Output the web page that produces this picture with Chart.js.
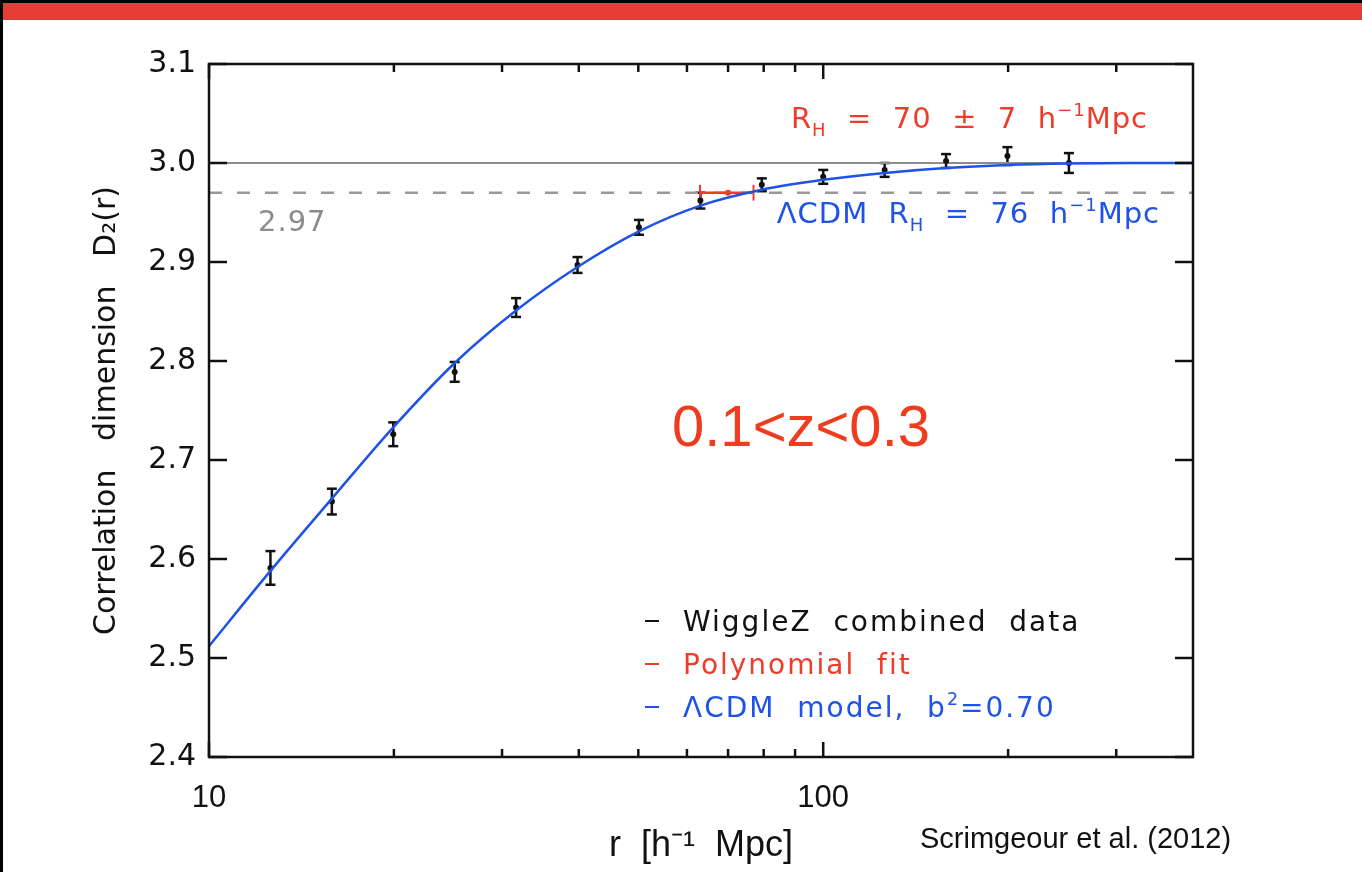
<!DOCTYPE html>
<html>
<head>
<meta charset="utf-8">
<script src="https://cdn.jsdelivr.net/npm/chart.js@4.4.0/dist/chart.umd.min.js"></script>
<style>
  html, body { margin: 0; padding: 0; background: #fff; }
  body { width: 1362px; height: 872px; position: relative; overflow: hidden; }
  #topbar { position: absolute; left: 0; top: 0; width: 1362px; height: 20px; background: #e73c36; border-top: 3px solid #000; box-sizing: border-box; }
  #edge { position: absolute; left: 0; top: 0; width: 3px; height: 872px; background: #000; }
  #wrap { position: absolute; left: 0; top: 0; width: 1362px; height: 872px; }
</style>
</head>
<body>
<div id="topbar"></div>
<div id="edge"></div>
<div id="wrap"><canvas id="grafico" width="1362" height="872"></canvas></div>
<script>
// WiggleZ combined data, 0.1<z<0.3
const rValues  = [12.59, 15.85, 19.95, 25.12, 31.62, 39.81, 50.12, 63.10, 79.43, 100.0, 125.9, 158.5, 199.5, 251.2];
const d2Values = [2.591, 2.658, 2.726, 2.789, 2.854, 2.897, 2.935, 2.962, 2.978, 2.986, 2.993, 3.002, 3.007, 3.000];
const d2Errors = [0.017, 0.013, 0.012, 0.010, 0.0095, 0.008, 0.0075, 0.008, 0.0065, 0.007, 0.007, 0.007, 0.009, 0.010];

// LCDM model curve, b^2 = 0.70
const modelR  = [10, 12.59, 15.85, 19.95, 25.12, 31.62, 39.81, 50.12, 63.10, 79.43, 100, 125.9, 158.5, 199.5, 251.2, 316.2, 400];
const modelD2 = [2.512, 2.588, 2.661, 2.733, 2.798, 2.851, 2.895, 2.931, 2.957, 2.973, 2.983, 2.990, 2.995, 2.998, 2.9995, 3.000, 3.000];

// polynomial fit: R_H = 70 +- 7 where D2 reaches 2.97
const fitRH = 70;
const fitErr = 7;
const fitLevel = 2.97;
const fitCap = 0.008;

const homogeneous = 3.0;
const xMin = 10, xMax = 400;
const yMin = 2.4, yMax = 3.1;
const xTicks = [10, 20, 30, 40, 50, 60, 70, 80, 90, 100, 200, 300];
const xLabels = [10, 100];
const yTicks = [2.4, 2.5, 2.6, 2.7, 2.8, 2.9, 3.0, 3.1];

const RED = '#ef3b2a';
const BLUE = '#1f52e6';
const INK = '#111';
const GREY = '#8c8c8c';
const IDL = '"DejaVu Sans", sans-serif';
const HELV = '"Liberation Sans", Arial, sans-serif';

// text made of pieces with sub/superscripts
function drawRuns(ctx, runs, x, y, size, color, align, spacing) {
  ctx.letterSpacing = (spacing === undefined ? 2 : spacing) + 'px';
  const pieces = runs.map(([t, kind]) => {
    const s = kind ? size * 0.62 : size;
    ctx.font = s + 'px ' + IDL;
    return { t, kind, s, w: ctx.measureText(t).width };
  });
  const total = pieces.reduce((a, p) => a + p.w, 0);
  let cx = align === 'right' ? x - total : x;
  ctx.fillStyle = color;
  ctx.textAlign = 'left';
  ctx.textBaseline = 'alphabetic';
  pieces.forEach(p => {
    ctx.font = p.s + 'px ' + IDL;
    const dy = p.kind === 'sub' ? size * 0.28 : p.kind === 'sup' ? -size * 0.42 : 0;
    ctx.fillText(p.t, cx, y + dy);
    cx += p.w;
  });
  ctx.letterSpacing = '0px';
}

function line(ctx, x1, y1, x2, y2) {
  ctx.beginPath();
  ctx.moveTo(x1, y1);
  ctx.lineTo(x2, y2);
  ctx.stroke();
}

const errorBars = {
  id: 'errorBars',
  beforeDatasetsDraw(chart) {
    const ctx = chart.ctx, xs = chart.scales.x, ys = chart.scales.y;
    ctx.save();
    ctx.strokeStyle = INK;
    ctx.lineWidth = 2.5;
    rValues.forEach((r, i) => {
      const px = xs.getPixelForValue(r);
      const top = ys.getPixelForValue(d2Values[i] + d2Errors[i]);
      const bot = ys.getPixelForValue(d2Values[i] - d2Errors[i]);
      line(ctx, px, top, px, bot);
      line(ctx, px - 5, top, px + 5, top);
      line(ctx, px - 5, bot, px + 5, bot);
    });
    // end caps of the R_H range
    ctx.strokeStyle = RED;
    ctx.lineWidth = 2;
    [fitRH - fitErr, fitRH + fitErr].forEach(r => {
      const px = xs.getPixelForValue(r);
      line(ctx, px, ys.getPixelForValue(fitLevel + fitCap), px, ys.getPixelForValue(fitLevel - fitCap));
    });
    ctx.restore();
  }
};

const frameAndText = {
  id: 'frameAndText',
  afterDraw(chart) {
    const ctx = chart.ctx, a = chart.chartArea, xs = chart.scales.x, ys = chart.scales.y;
    ctx.save();
    ctx.strokeStyle = INK;
    ctx.lineWidth = 2.5;
    xTicks.forEach(v => {
      const px = xs.getPixelForValue(v);
      const len = xLabels.includes(v) ? 15 : 8;
      line(ctx, px, a.bottom, px, a.bottom - len);
      line(ctx, px, a.top, px, a.top + len);
    });
    yTicks.forEach(v => {
      const py = ys.getPixelForValue(v);
      line(ctx, a.left, py, a.left + 18, py);
      line(ctx, a.right, py, a.right - 18, py);
    });
    ctx.strokeRect(a.left, a.top, a.right - a.left, a.bottom - a.top);

    // threshold label
    drawRuns(ctx, [['2.97']], a.left + 49, ys.getPixelForValue(fitLevel) + 38, 29, GREY, 'left', 1);

    drawRuns(ctx, [['R'], ['H', 'sub'], ['  =  70  ±  7  h'], ['−1', 'sup'], ['Mpc']], 1148, 128, 29, RED, 'right', 1);
    drawRuns(ctx, [['ΛCDM  R'], ['H', 'sub'], ['  =  76  h'], ['−1', 'sup'], ['Mpc']], 1160, 223, 29, BLUE, 'right', 1);

    // redshift range
    ctx.font = '58px ' + HELV;
    ctx.fillStyle = '#f03c1e';
    ctx.textAlign = 'left';
    ctx.fillText('0.1<z<0.3', 672, 446);

    // legend
    const rows = [
      [INK, [['WiggleZ  combined  data']]],
      [RED, [['Polynomial  fit']]],
      [BLUE, [['ΛCDM  model,  b'], ['2', 'sup'], ['=0.70']]]
    ];
    rows.forEach(([c, runs], i) => {
      const by = 631 + i * 43;
      ctx.strokeStyle = c;
      ctx.lineWidth = 2;
      line(ctx, 645, by - 10, 659, by - 10);
      drawRuns(ctx, runs, 683, by, 28, c, 'left', 2);
    });

    ctx.font = '29px ' + HELV;
    ctx.fillStyle = INK;
    ctx.fillText('Scrimgeour et al. (2012)', 920, 848);
    ctx.restore();
  }
};

const graph = document.getElementById('grafico');

const myChart = new Chart(graph, {
  type: 'scatter',
  data: {
    datasets: [
      {
        label: 'WiggleZ combined data',
        data: rValues.map((r, i) => ({ x: r, y: d2Values[i] })),
        pointRadius: 3,
        pointBackgroundColor: INK,
        pointBorderWidth: 0,
        order: 5
      },
      {
        label: 'ΛCDM model',
        data: modelR.map((r, i) => ({ x: r, y: modelD2[i] })),
        showLine: true,
        borderColor: BLUE,
        borderWidth: 2.5,
        pointRadius: 0,
        cubicInterpolationMode: 'monotone',
        order: 1
      },
      {
        label: 'Polynomial fit',
        data: [{ x: fitRH - fitErr, y: fitLevel }, { x: fitRH + fitErr, y: fitLevel }],
        showLine: true,
        borderColor: RED,
        borderWidth: 2.5,
        pointRadius: 0,
        order: 2
      },
      {
        label: 'R_H',
        data: [{ x: fitRH, y: fitLevel }],
        pointRadius: 3,
        pointBackgroundColor: RED,
        pointBorderWidth: 0,
        order: 2
      },
      {
        label: 'D2 = 3',
        data: [{ x: xMin, y: homogeneous }, { x: xMax, y: homogeneous }],
        showLine: true,
        borderColor: GREY,
        borderWidth: 2,
        pointRadius: 0,
        order: 9
      },
      {
        label: 'D2 = 2.97',
        data: [{ x: xMin, y: fitLevel }, { x: xMax, y: fitLevel }],
        showLine: true,
        borderColor: '#999',
        borderWidth: 2.5,
        borderDash: [13, 15],
        pointRadius: 0,
        order: 9
      }
    ]
  },
  options: {
    responsive: false,
    animation: false,
    devicePixelRatio: 1,
    layout: { padding: { top: 64, right: 169, bottom: 0, left: 0 } },
    plugins: { legend: { display: false }, tooltip: { enabled: false } },
    scales: {
      x: {
        type: 'logarithmic',
        min: xMin,
        max: xMax,
        afterBuildTicks: s => { s.ticks = xTicks.map(v => ({ value: v })); },
        afterFit: s => { s.height = 115; },
        grid: { display: false, drawTicks: false },
        border: { display: false },
        ticks: {
          autoSkip: false,
          maxRotation: 0,
          padding: 23,
          color: INK,
          font: { family: HELV, size: 31 },
          callback: v => xLabels.includes(v) ? String(v) : ''
        },
        title: {
          display: true,
          text: 'r  [h⁻¹  Mpc]',
          color: INK,
          font: { family: HELV, size: 36 },
          padding: { top: 0, bottom: 4 }
        }
      },
      y: {
        min: yMin,
        max: yMax,
        afterBuildTicks: s => { s.ticks = yTicks.map(v => ({ value: v })); },
        afterFit: s => { s.width = 209; },
        grid: { display: false, drawTicks: false },
        border: { display: false },
        ticks: {
          padding: 13,
          color: INK,
          font: { family: IDL, size: 30 },
          callback: v => v.toFixed(1)
        },
        title: {
          display: true,
          text: 'Correlation   dimension   D₂(r)',
          color: INK,
          font: { family: IDL, size: 30 },
          padding: { top: 89, bottom: 0 }
        }
      }
    }
  },
  plugins: [errorBars, frameAndText]
});
</script>
</body>
</html>
